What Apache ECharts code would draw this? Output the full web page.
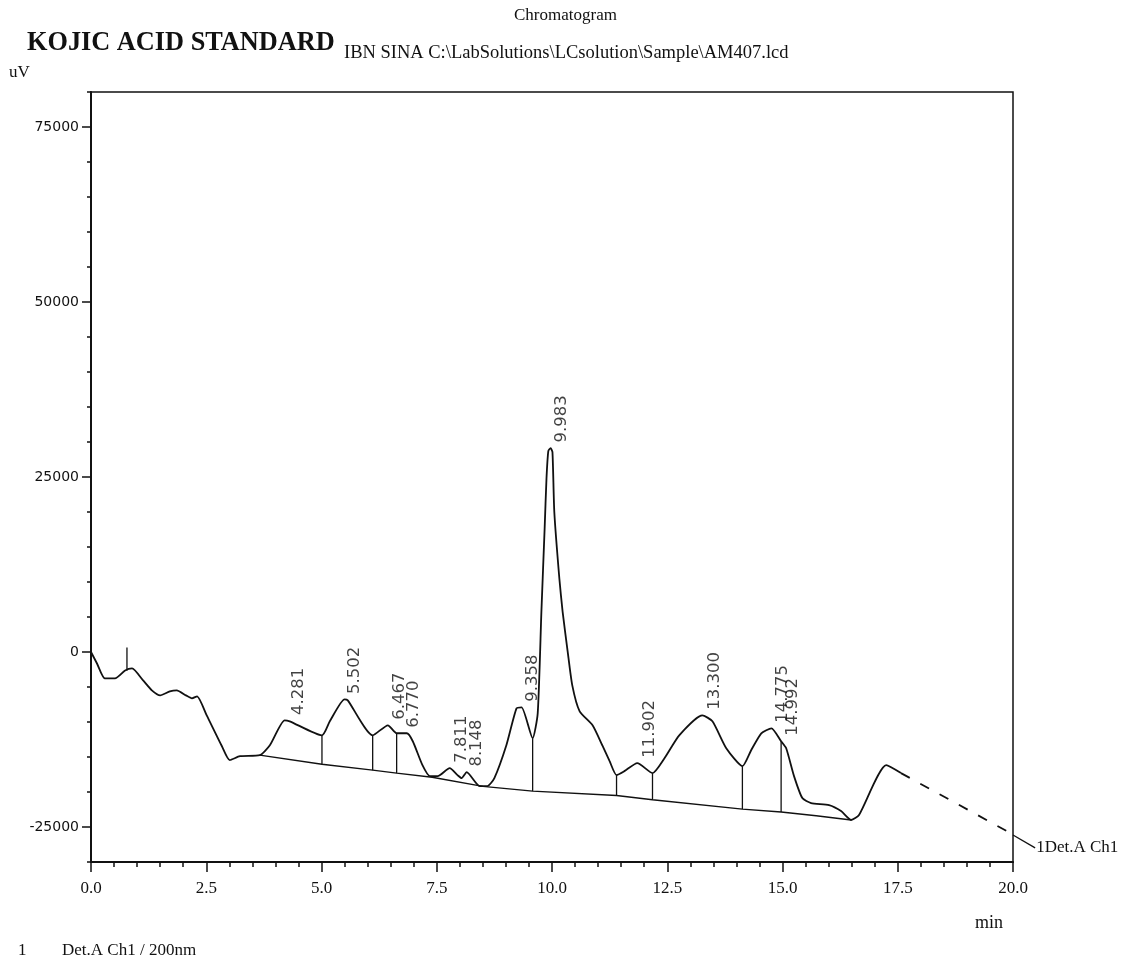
<!DOCTYPE html>
<html><head><meta charset="utf-8">
<script src="https://cdn.jsdelivr.net/npm/echarts@6/dist/echarts.min.js"></script>
<style>html,body{margin:0;padding:0;background:#fff}#c{width:1124px;height:958px}</style>
</head><body><div id="c"></div>
<script>
// ---- data ----
const traceTime = [0.00,0.13,0.30,0.52,0.74,0.89,1.13,1.32,1.50,1.71,1.86,2.06,2.19,2.30,2.51,2.84,3.01,3.23,3.66,3.88,4.20,4.31,5.01,5.18,5.50,5.57,6.11,6.44,6.63,6.85,6.98,7.19,7.35,7.52,7.78,7.95,8.04,8.15,8.43,8.60,8.75,9.01,9.23,9.34,9.58,9.69,9.77,9.84,9.88,9.92,9.97,10.01,10.05,10.16,10.23,10.34,10.44,10.60,10.88,11.09,11.25,11.40,11.57,11.85,12.18,12.44,12.76,13.26,13.48,13.78,14.13,14.32,14.54,14.76,14.97,15.08,15.25,15.43,15.62,16.01,16.27,16.49,16.66,17.25,17.57];
const traceValue = [0,-1640,-3775,-3775,-2635,-2350,-4060,-5480,-6200,-5630,-5485,-6200,-6620,-6340,-9050,-13460,-15450,-14890,-14740,-13320,-9760,-9900,-11900,-9900,-6770,-6910,-11900,-10470,-11610,-11610,-12750,-16170,-17730,-17730,-16600,-17590,-18020,-17160,-19150,-19150,-18020,-13320,-8050,-7900,-12320,-8760,5770,17590,24710,28700,29130,28560,20010,10470,5770,70,-4770,-8480,-10470,-13320,-15600,-17590,-17020,-15880,-17300,-15170,-11900,-9050,-9900,-13750,-16310,-14030,-11610,-10900,-12750,-13750,-17730,-20870,-21580,-21870,-22720,-24000,-23290,-16170,-17300];
const tailTime = [17.57, 19.87];
const tailValue = [-17300, -25600];
const baseTime = [3.66,5.01,6.11,6.63,7.40,8.50,9.58,11.40,12.18,14.13,14.97,15.73,16.49];
const baseValue = [-14740,-16030,-16880,-17300,-17900,-19200,-19870,-20500,-21100,-22440,-22860,-23400,-24000];
const dropTime = [0.78,5.01,6.11,6.63,9.58,11.40,12.18,14.13,14.97];
const dropTop = [640,-11900,-11900,-11610,-12320,-17590,-17300,-16310,-12750];
const dropBottom = [-2635,-16030,-16880,-17300,-19870,-20500,-21100,-22440,-22860];
const peakTime = [4.281,5.502,6.467,6.770,7.811,8.148,9.358,9.983,11.902,13.300,14.775,14.992];
const peakLabel = ['4.281','5.502','6.467','6.770','7.811','8.148','9.358','9.983','11.902','13.300','14.775','14.992'];
const peakHeight = [-9800,-6770,-10470,-11610,-16600,-17160,-7900,29130,-15880,-9050,-10900,-12750];
const xTickValues = [0,2.5,5,7.5,10,12.5,15,17.5,20];
const yTickValues = [-25000,0,25000,50000,75000];
const channelLabel = '1Det.A Ch1';
const channelLeader = [[20.0, -26140], [20.48, -27990]];

// ---- chart ----
const INK = '#111';
const serif = 'Liberation Serif';
const pair = (xs, ys) => xs.map((x, i) => [x, ys[i]]);

const chart = echarts.init(document.getElementById('c'), null, {renderer: 'canvas'});
chart.setOption({
  animation: false,
  backgroundColor: '#fff',
  title: [
    {text: 'KOJIC ACID STANDARD', left: 27, top: 30, padding: 0,
     textStyle: {fontFamily: serif, fontWeight: 'bold', fontSize: 26.3, color: INK}},
    {text: 'Chromatogram', left: 514, top: 7, padding: 0,
     textStyle: {fontFamily: serif, fontWeight: 'normal', fontSize: 17, color: INK}},
    {text: 'IBN SINA C:\\LabSolutions\\LCsolution\\Sample\\AM407.lcd', left: 344, top: 44, padding: 0,
     textStyle: {fontFamily: serif, fontWeight: 'normal', fontSize: 18.5, color: INK}},
    {text: 'uV', left: 9, top: 64, padding: 0,
     textStyle: {fontFamily: serif, fontWeight: 'normal', fontSize: 17, color: INK}},
    {text: 'min', left: 975, top: 914, padding: 0,
     textStyle: {fontFamily: serif, fontWeight: 'normal', fontSize: 18, color: INK}},
    {text: '1', left: 18, top: 942, padding: 0,
     textStyle: {fontFamily: serif, fontWeight: 'normal', fontSize: 17, color: INK}},
    {text: 'Det.A Ch1 / 200nm', left: 62, top: 942, padding: 0,
     textStyle: {fontFamily: serif, fontWeight: 'normal', fontSize: 17, color: INK}}
  ],
  grid: {left: 91, right: 111, top: 92, bottom: 96, show: true, borderColor: INK, borderWidth: 1.5, backgroundColor: 'transparent'},
  xAxis: {
    type: 'value', min: 0, max: 20, interval: 2.5,
    axisLine: {onZero: false, lineStyle: {color: INK, width: 2}},
    axisTick: {length: 10, customValues: xTickValues, lineStyle: {color: INK, width: 1.5}},
    minorTick: {show: true, splitNumber: 5, length: 5, lineStyle: {color: INK, width: 1.5}},
    axisLabel: {customValues: xTickValues, formatter: v => Number(v).toFixed(1), fontFamily: serif, fontSize: 17, color: INK, margin: 18},
    splitLine: {show: false}, minorSplitLine: {show: false}
  },
  yAxis: [
    {type: 'value', min: -30000, max: 80000, interval: 5000, position: 'left',
     axisLine: {show: true, onZero: false, lineStyle: {color: INK, width: 2}},
     axisTick: {show: true, length: 4, lineStyle: {color: INK, width: 1.5}},
     axisLabel: {show: false}, splitLine: {show: false}},
    {type: 'value', min: -30000, max: 80000, position: 'left',
     axisLine: {show: false, onZero: false},
     axisTick: {show: true, length: 9, customValues: yTickValues, lineStyle: {color: INK, width: 1.5}},
     axisLabel: {show: true, customValues: yTickValues, formatter: v => String(v), fontFamily: 'DejaVu Sans', fontSize: 14, color: INK, margin: 12},
     splitLine: {show: false}}
  ],
  series: [
    {name: 'trace', type: 'line', data: pair(traceTime, traceValue), showSymbol: false, symbol: 'none',
     smooth: 0.2, lineStyle: {color: INK, width: 1.8}, z: 3},
    {name: 'tail', type: 'line', data: pair(tailTime, tailValue), showSymbol: false, symbol: 'none',
     lineStyle: {color: INK, width: 1.8, type: [10, 12]}, z: 3},
    {name: 'baseline', type: 'line', data: pair(baseTime, baseValue), showSymbol: false, symbol: 'none',
     lineStyle: {color: INK, width: 1.4}, z: 2},
    {name: 'drops', type: 'custom', data: dropTime.map((t, i) => [t, dropTop[i], dropBottom[i]]),
     encode: {x: 0, y: [1, 2]},
     renderItem: (params, api) => {
       const a = api.coord([api.value(0), api.value(1)]);
       const b = api.coord([api.value(0), api.value(2)]);
       return {type: 'line', shape: {x1: a[0], y1: a[1], x2: b[0], y2: b[1]}, style: {stroke: INK, lineWidth: 1.3}};
     }, z: 2},
    {name: 'peaks', type: 'scatter', symbolSize: 1, itemStyle: {color: 'rgba(0,0,0,0)'},
     data: peakTime.map((t, i) => ({value: [t, peakHeight[i]], name: peakLabel[i]})),
     label: {show: true, formatter: '{b}', position: [11, -5], rotate: 90, align: 'left', verticalAlign: 'middle',
             fontFamily: 'DejaVu Sans', fontSize: 16.5, color: INK}, z: 4}
  ]
});

// channel annotation: leader line and label placed through the chart's own scales
const p1 = chart.convertToPixel({gridIndex: 0}, channelLeader[0]);
const p2 = chart.convertToPixel({gridIndex: 0}, channelLeader[1]);
chart.setOption({
  graphic: [
    {type: 'line', shape: {x1: p1[0], y1: p1[1], x2: p2[0], y2: p2[1]}, style: {stroke: INK, lineWidth: 1.3}, z: 10},
    {type: 'text', x: p2[0] + 1, y: p2[1], style: {text: channelLabel, fill: INK, font: '17px "Liberation Serif"', textVerticalAlign: 'middle', textAlign: 'left'}, z: 10}
  ]
});
</script></body></html>
